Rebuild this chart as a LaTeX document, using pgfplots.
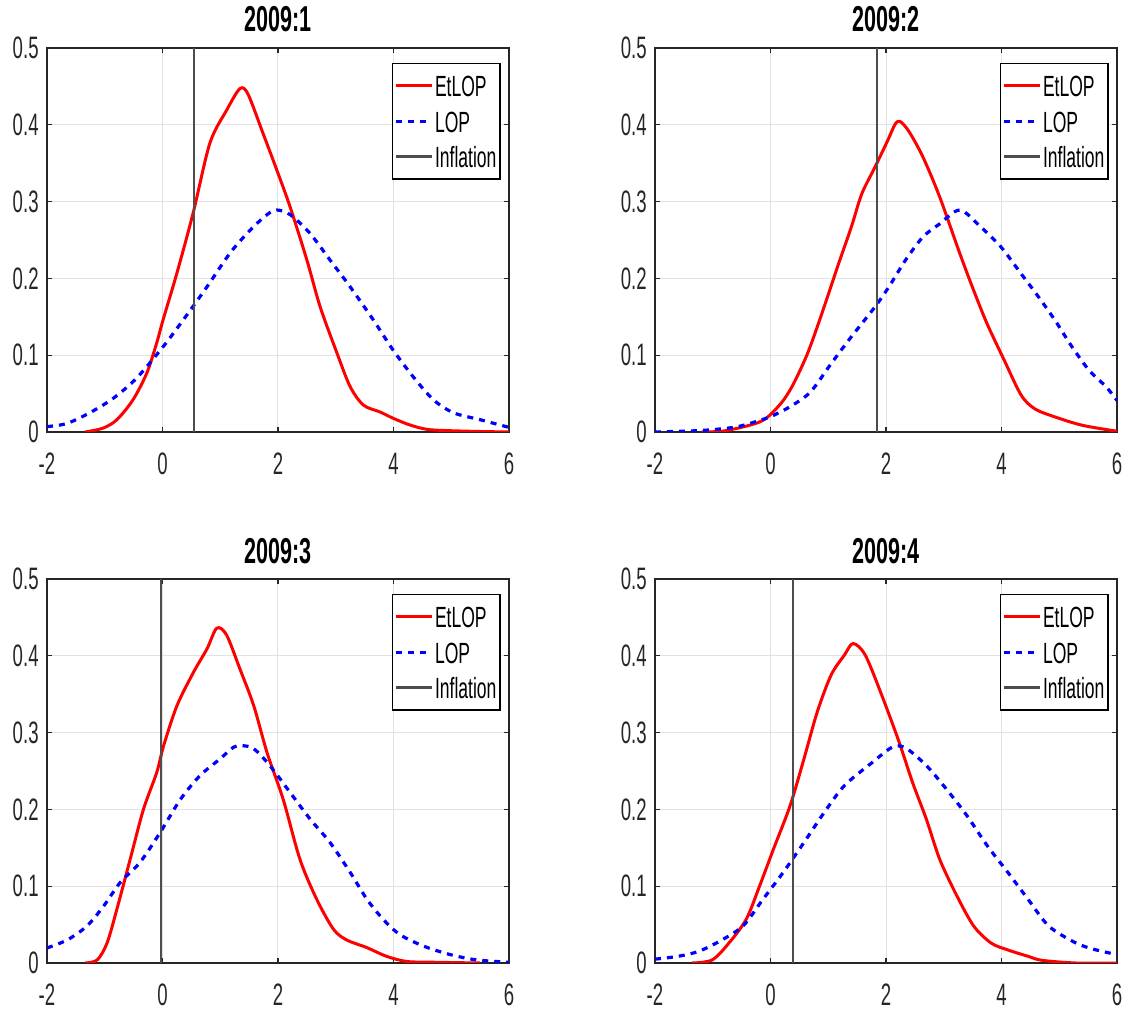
\documentclass[border=0pt]{standalone}
\usepackage{pgfplots}
\pgfplotsset{compat=1.18}
\usepackage{fontspec}
\setmainfont{Liberation Sans}[FakeStretch=0.6]

\definecolor{axgray}{RGB}{38,38,38}
\definecolor{gridgray}{RGB}{226,226,226}
\definecolor{inflgray}{RGB}{77,77,77}

\pgfplotsset{
  panel/.style={
    scale only axis, width=231pt, height=192pt,
    xmin=-2, xmax=6, ymin=0, ymax=0.5,
    xtick={-2,0,2,4,6}, xticklabels={-2,0,2,4,6},
    ytick={0,0.1,0.2,0.3,0.4,0.5}, yticklabels={0,0.1,0.2,0.3,0.4,0.5},
    tick align=inside, major tick length=2.5pt,
    tick style={axgray, line width=0.6pt},
    axis line style={axgray, line width=0.9pt},
    grid=major, major grid style={gridgray, line width=0.5pt},
    tick label style={font=\fontsize{15.5}{17}\selectfont, text=axgray},
    xticklabel style={anchor=base, yshift=-21.5pt},
    yticklabel style={anchor=east, inner sep=0pt, xshift=-4pt},
    title style={at={(0.5,1)}, anchor=base, yshift=2pt,
                 font=\bfseries\fontsize{18}{19}\selectfont},
    legend cell align=left,
    legend style={at={(1,1)}, anchor=north east, xshift=-4.2pt, yshift=-7.5pt,
      draw=black, line width=0.6pt, fill=white,
      font=\fontsize{14.6}{16}\selectfont,
      inner xsep=1.2pt, inner ysep=5pt, row sep=5.55pt,
      nodes={inner sep=0.6pt, text height=11pt, text depth=0pt}},
    legend image code/.code={\draw[##1, line width=1.6pt] (0pt,0pt) -- (18pt,0pt);},
  },
  etlop/.style={red, line width=1.5pt, smooth, tension=0.5},
  lop/.style={blue, line width=1.6pt, dash pattern=on 3pt off 3pt, smooth, tension=0.5},
  infl/.style={inflgray, line width=1.1pt},
}

\begin{document}
\begin{tikzpicture}
\useasboundingbox (0,0) rectangle (567pt,507.5pt);

% 2009:1
\begin{axis}[panel, at={(23.5pt,291.5pt)}, anchor=south west, title={2009:1}]
\addplot[etlop] coordinates {
(-1.34,0) (-1.03,0.005) (-0.79,0.016) (-0.51,0.042) (-0.27,0.077) (-0.10,0.116)
(0.01,0.146) (0.25,0.207) (0.53,0.285) (0.82,0.376) (1.11,0.419) (1.34,0.447)
(1.48,0.44) (1.74,0.389) (1.98,0.341) (2.21,0.293) (2.50,0.224) (2.73,0.163)
(3.02,0.103) (3.25,0.059) (3.48,0.035) (3.77,0.026) (3.99,0.018) (4.29,0.009)
(4.63,0.003) (5.3,0.001) (6,0)};
\addlegendentry{EtLOP}
\addplot[lop] coordinates {
(-2,0.007) (-1.66,0.011) (-1.26,0.025) (-0.85,0.044) (-0.45,0.070) (0.01,0.111)
(0.36,0.146) (0.77,0.189) (1.17,0.233) (1.52,0.263) (1.81,0.283) (1.98,0.289)
(2.21,0.283) (2.55,0.259) (2.90,0.224) (3.25,0.189) (3.65,0.146) (3.99,0.107)
(4.34,0.072) (4.69,0.042) (5.04,0.025) (5.5,0.016) (6,0.006)};
\addlegendentry{LOP}
\addplot[infl] coordinates {(0.54,0) (0.54,0.5)};
\addlegendentry{Inflation}
\end{axis}

% 2009:2
\begin{axis}[panel, at={(327.5pt,291.5pt)}, anchor=south west, title={2009:2}]
\addplot[etlop] coordinates {
(-1.19,0) (-0.84,0.001) (-0.48,0.0065) (-0.19,0.013) (-0.01,0.022) (0.22,0.041)
(0.40,0.063) (0.64,0.102) (0.87,0.150) (1.16,0.215) (1.40,0.267) (1.58,0.310)
(1.81,0.345) (2.02,0.378) (2.16,0.401) (2.25,0.404) (2.40,0.391) (2.64,0.358)
(2.93,0.306) (3.28,0.232) (3.52,0.184) (3.75,0.141) (4.05,0.093) (4.34,0.048)
(4.58,0.030) (4.93,0.0195) (5.40,0.0087) (6,0.001)};
\addlegendentry{EtLOP}
\addplot[lop] coordinates {
(-2,0) (-1.19,0.002) (-0.60,0.0065) (-0.19,0.015) (-0.01,0.0195) (0.34,0.033)
(0.69,0.052) (1.05,0.089) (1.40,0.124) (1.81,0.163) (2.05,0.189) (2.34,0.224)
(2.64,0.254) (2.93,0.271) (3.28,0.289) (3.64,0.267) (3.99,0.241) (4.34,0.206)
(4.64,0.176) (4.93,0.145) (5.22,0.111) (5.52,0.080) (5.81,0.059) (6,0.041)};
\addlegendentry{LOP}
\addplot[infl] coordinates {(1.85,0) (1.85,0.5)};
\addlegendentry{Inflation}
\end{axis}

% 2009:3
\begin{axis}[panel, at={(23.5pt,26pt)}, anchor=south west, title={2009:3}]
\addplot[etlop] coordinates {
(-1.34,0) (-1.13,0.004) (-0.96,0.026) (-0.79,0.070) (-0.56,0.135) (-0.33,0.200)
(-0.10,0.248) (0.02,0.283) (0.25,0.335) (0.54,0.379) (0.77,0.409) (0.94,0.436)
(1.11,0.427) (1.34,0.383) (1.58,0.335) (1.81,0.274) (2.09,0.213) (2.38,0.135)
(2.67,0.083) (2.96,0.044) (3.19,0.030) (3.54,0.020) (3.88,0.0087) (4.23,0.002)
(4.69,0.001) (5.50,0)};
\addlegendentry{EtLOP}
\addplot[lop] coordinates {
(-2,0.0196) (-1.65,0.030) (-1.31,0.048) (-1.02,0.074) (-0.73,0.105) (-0.39,0.131)
(-0.04,0.170) (0.31,0.213) (0.65,0.244) (1.00,0.266) (1.23,0.281) (1.37,0.283)
(1.58,0.279) (1.86,0.257) (2.21,0.222) (2.56,0.187) (2.90,0.157) (3.25,0.118)
(3.54,0.083) (3.82,0.057) (4.11,0.037) (4.52,0.022) (4.98,0.011) (5.44,0.004)
(6,0.001)};
\addlegendentry{LOP}
\addplot[infl] coordinates {(-0.02,0) (-0.02,0.5)};
\addlegendentry{Inflation}
\end{axis}

% 2009:4
\begin{axis}[panel, at={(327.5pt,26pt)}, anchor=south west, title={2009:4}]
\addplot[etlop] coordinates {
(-1.36,0) (-1.01,0.004) (-0.72,0.026) (-0.42,0.057) (-0.19,0.100) (0.05,0.148)
(0.34,0.205) (0.58,0.266) (0.81,0.327) (1.05,0.375) (1.28,0.401) (1.43,0.416)
(1.64,0.401) (1.93,0.348) (2.23,0.287) (2.46,0.235) (2.70,0.187) (2.93,0.135)
(3.23,0.087) (3.52,0.048) (3.82,0.026) (4.11,0.017) (4.46,0.0087) (4.70,0.0035)
(5.29,0) (6,0)};
\addlegendentry{EtLOP}
\addplot[lop] coordinates {
(-2,0.005) (-1.60,0.0087) (-1.25,0.015) (-0.89,0.028) (-0.48,0.048) (-0.13,0.083)
(0.22,0.118) (0.58,0.157) (0.93,0.196) (1.28,0.231) (1.76,0.261) (2.11,0.281)
(2.34,0.280) (2.70,0.257) (3.05,0.226) (3.40,0.192) (3.76,0.152) (4.11,0.118)
(4.46,0.083) (4.82,0.048) (5.29,0.026) (5.64,0.017) (6,0.011)};
\addlegendentry{LOP}
\addplot[infl] coordinates {(0.39,0) (0.39,0.5)};
\addlegendentry{Inflation}
\end{axis}
\end{tikzpicture}
\end{document}
